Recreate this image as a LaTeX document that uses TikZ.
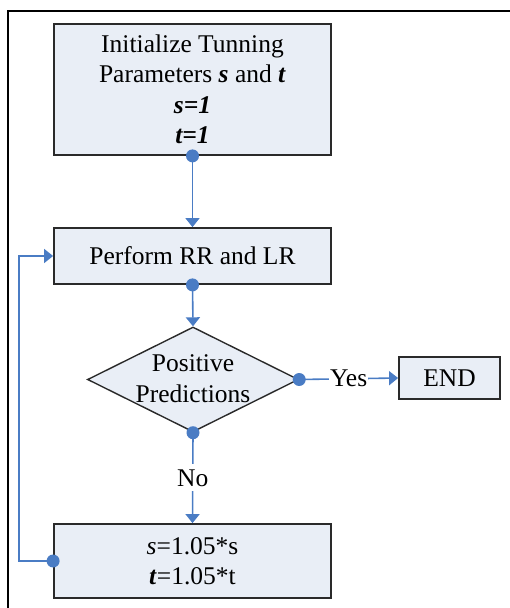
\documentclass[tikz,border=0pt]{standalone}
\usepackage{fontspec}
\setmainfont{Liberation Serif}
\usetikzlibrary{arrows.meta,shapes.geometric}
\definecolor{boxfill}{HTML}{E9EEF6}
\definecolor{conn}{HTML}{4A7CC4}
\definecolor{boxline}{HTML}{2A2A2A}
\tikzset{
  stepbox/.style={draw=boxline, line width=1.8pt, fill=boxfill, align=center, inner sep=0pt,
    font=\fontsize{25.5}{30.5}\selectfont},
  dia/.style={diamond, draw=boxline, line width=1.4pt, fill=boxfill, inner sep=0pt,
    minimum width=211pt, minimum height=105pt},
  conline/.style={draw=conn, line width=1.6pt},
  arr/.style={conline, -{Triangle[length=9pt,width=14pt]}},
  lbl/.style={font=\fontsize{25.5}{30.5}\selectfont, fill=white, inner sep=1pt},
}
\newcommand{\bi}[1]{\textbf{\textit{#1}}}
\begin{document}
\begin{tikzpicture}[x=1pt,y=-1pt]
\useasboundingbox (0,0) rectangle (509,608);
% outer frame
\draw[line width=2pt, black] (8,610) -- (8,11) -- (511,11);
% nodes
\node[stepbox, minimum width=277pt, minimum height=131pt] (init) at (192.5,89.5)
  {Initialize Tunning\\Parameters \bi{s} and \bi{t}\\\bi{s=1}\\\bi{t=1}};
\node[stepbox, minimum width=277pt, minimum height=56pt] (perf) at (192.5,256)
  {Perform RR and LR};
\node[dia] (dec) at (193,379.5) {};
\node[align=center, font=\fontsize{25.5}{31}\selectfont, inner sep=0pt] (dectext) at (193,379)
  {Positive\\Predictions};
\node[stepbox, minimum width=101pt, minimum height=42pt] (end) at (449.5,378) {END};
\node[stepbox, minimum width=277pt, minimum height=74pt] (upd) at (192.5,561)
  {\textit{s}=1.05*s\\\bi{t}=1.05*t};
% connectors
\draw[arr] (init.south) -- (perf.north);
\draw[arr] (perf.south) -- (dec.north);
\draw[arr] (dec.east) -- node[lbl]{Yes} (end.west);
\draw[arr] (dec.south) -- node[lbl, inner sep=5pt]{No} (upd.north);
\draw[arr] (upd.west) -- ++(-34,0) |- (perf.west);
% dots
\foreach \p in {init.south, perf.south, dec.east, dec.south, upd.west}
  \fill[conn] (\p) circle (6.5pt);
\end{tikzpicture}
\end{document}
